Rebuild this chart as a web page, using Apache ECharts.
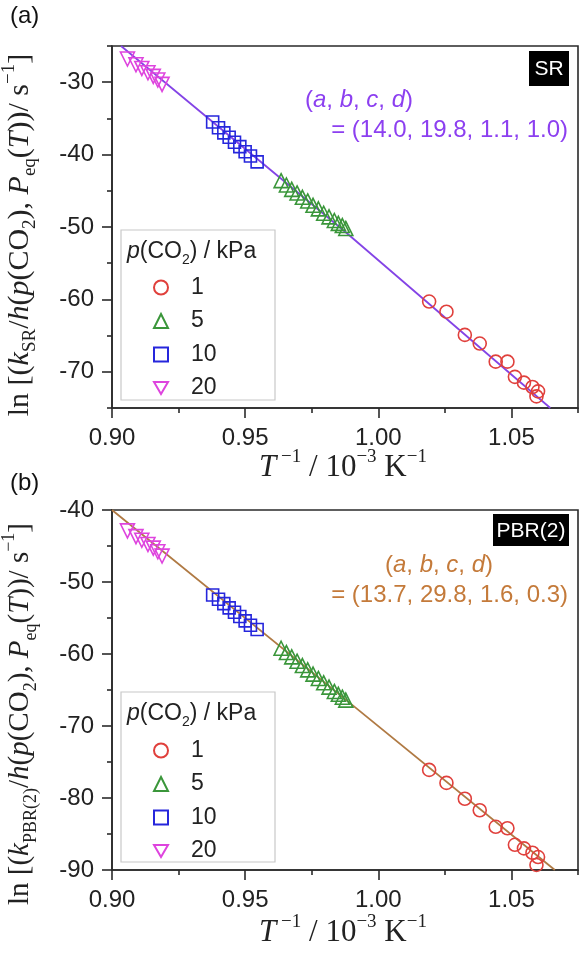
<!DOCTYPE html>
<html><head><meta charset="utf-8">
<script src="https://cdn.jsdelivr.net/npm/echarts@6/dist/echarts.min.js"></script>
<style>html,body{margin:0;padding:0;background:#fff}#c{width:579px;height:960px}</style>
</head><body><div id="c"></div>
<script>
// ---- tick values ----
const xMajorTicks = [0.90, 0.95, 1.00, 1.05];
const xMinorTicks = [0.925, 0.975, 1.025, 1.075];
const yMajorTicksA = [-70, -60, -50, -40, -30];
const yMinorTicksA = [-75, -65, -55, -45, -35, -25];
const yMajorTicksB = [-90, -80, -70, -60, -50, -40];
const yMinorTicksB = [-85, -75, -65, -55, -45];
const legendNames = ['1', '5', '10', '20'];

// ---- panel (a) SR ----
const aP1x = [1.0191, 1.0256, 1.0325, 1.0381, 1.0441, 1.0485, 1.0513, 1.0547, 1.0579, 1.0600, 1.0594];
const aP1y = [-60.3, -61.7, -64.9, -66.1, -68.6, -68.6, -70.7, -71.5, -72.1, -72.7, -73.4];
const aP5x = [0.9635, 0.9655, 0.9675, 0.9695, 0.9715, 0.9735, 0.9755, 0.9775, 0.9795, 0.9815, 0.9835, 0.9850, 0.9865, 0.9878];
const aP5y = [-43.6, -44.2, -44.8, -45.3, -45.9, -46.4, -47.0, -47.5, -48.1, -48.6, -49.1, -49.5, -49.8, -50.2];
const aP10x = [0.9378, 0.9400, 0.9420, 0.9440, 0.9460, 0.9480, 0.9500, 0.9520, 0.9545];
const aP10y = [-35.5, -36.3, -37.0, -37.6, -38.3, -38.9, -39.6, -40.2, -41.0];
const aP20x = [0.9058, 0.9090, 0.9112, 0.9135, 0.9155, 0.9172, 0.9188];
const aP20y = [-26.8, -27.6, -28.1, -28.7, -29.2, -29.7, -30.3];
const aFitX = [0.9034, 0.9880, 1.0646];
const aFitY = [-25.0, -50.8, -75.0];

// ---- panel (b) PBR(2) ----
const bP1x = [1.0191, 1.0256, 1.0325, 1.0381, 1.0441, 1.0485, 1.0513, 1.0547, 1.0579, 1.0600, 1.0594];
const bP1y = [-76.1, -77.9, -80.1, -81.7, -84.0, -84.2, -86.5, -87.0, -87.6, -88.2, -89.3];
const bP5x = [0.9635, 0.9655, 0.9675, 0.9695, 0.9715, 0.9735, 0.9755, 0.9775, 0.9795, 0.9815, 0.9835, 0.9850, 0.9865, 0.9878];
const bP5y = [-59.2, -59.8, -60.4, -61.0, -61.6, -62.2, -62.8, -63.4, -64.0, -64.6, -65.2, -65.6, -66.0, -66.4];
const bP10x = [0.9378, 0.9400, 0.9420, 0.9440, 0.9460, 0.9480, 0.9500, 0.9520, 0.9545];
const bP10y = [-51.8, -52.4, -53.0, -53.6, -54.2, -54.8, -55.4, -56.0, -56.6];
const bP20x = [0.9058, 0.9090, 0.9112, 0.9135, 0.9155, 0.9172, 0.9188];
const bP20y = [-42.9, -43.7, -44.2, -44.8, -45.3, -45.8, -46.4];
const bFitX = [0.9000, 0.9880, 1.0663];
const bFitY = [-40.0, -66.4, -90.0];

const zip = (xs, ys) => xs.map((x, i) => [x, ys[i]]);

const SANS = '"Liberation Sans", Arial, sans-serif';
const SERIF = '"Liberation Serif", "Times New Roman", serif';
const AXC = '#2a2a2a';

const colors = { p1: '#e0403c', p5: '#3a963a', p10: '#2626dc', p20: '#de44de' };
const downTri = 'path://M0,0 L20,0 L10,17.3 Z';
const markers = [
  { name: '1', symbol: 'circle', color: colors.p1, size: 13 },
  { name: '5', symbol: 'triangle', color: colors.p5, size: 14 },
  { name: '10', symbol: 'rect', color: colors.p10, size: 12 },
  { name: '20', symbol: downTri, color: colors.p20, size: 14 }
];

function grids() {
  return [
    { left: 112, right: 1, top: 46, height: 362, show: true, borderColor: AXC, borderWidth: 1.6, backgroundColor: 'transparent' },
    { left: 112, right: 1, top: 510, height: 360, show: true, borderColor: AXC, borderWidth: 1.6, backgroundColor: 'transparent' }
  ];
}

function xAxes(gi) {
  const base = { type: 'value', gridIndex: gi, min: 0.90, max: 1.075, position: 'bottom', splitLine: { show: false } };
  return [
    Object.assign({}, base, {
      axisLine: { show: true, onZero: false, lineStyle: { color: AXC, width: 1.6 } },
      axisTick: { show: true, inside: false, length: 10, lineStyle: { color: AXC, width: 1.6 }, customValues: xMajorTicks },
      axisLabel: { show: true, margin: 18, fontFamily: SANS, fontSize: 24, color: '#222', customValues: xMajorTicks,
        formatter: v => v.toFixed(2) }
    }),
    Object.assign({}, base, {
      axisLine: { show: false, onZero: false },
      axisTick: { show: true, inside: false, length: 5, lineStyle: { color: AXC, width: 1.6 }, customValues: xMinorTicks },
      axisLabel: { show: false }
    })
  ];
}

function yAxes(gi, min, max, major, minor) {
  const base = { type: 'value', gridIndex: gi, min: min, max: max, position: 'left', splitLine: { show: false } };
  return [
    Object.assign({}, base, {
      axisLine: { show: true, onZero: false, lineStyle: { color: AXC, width: 1.6 } },
      axisTick: { show: true, inside: false, length: 10, lineStyle: { color: AXC, width: 1.6 }, customValues: major },
      axisLabel: { show: true, margin: 18, fontFamily: SANS, fontSize: 24, color: '#222', customValues: major,
        formatter: v => String(v) }
    }),
    Object.assign({}, base, {
      axisLine: { show: false, onZero: false },
      axisTick: { show: true, inside: false, length: 5, lineStyle: { color: AXC, width: 1.6 }, customValues: minor },
      axisLabel: { show: false }
    })
  ];
}

function scatter(m, data, xi, yi) {
  return {
    type: 'scatter', name: m.name, xAxisIndex: xi, yAxisIndex: yi, data: data,
    symbol: m.symbol, symbolSize: m.size, z: 5,
    itemStyle: { color: 'rgba(255,255,255,0)', borderColor: m.color, borderWidth: 1.6, opacity: 1 },
    emphasis: { disabled: true }
  };
}

const series = [
  { type: 'line', name: 'fitA', xAxisIndex: 0, yAxisIndex: 0, data: zip(aFitX, aFitY), showSymbol: false,
    lineStyle: { color: '#8444e6', width: 1.8 }, z: 2, silent: true },
  scatter(markers[0], zip(aP1x, aP1y), 0, 0),
  scatter(markers[1], zip(aP5x, aP5y), 0, 0),
  scatter(markers[2], zip(aP10x, aP10y), 0, 0),
  scatter(markers[3], zip(aP20x, aP20y), 0, 0),
  { type: 'line', name: 'fitB', xAxisIndex: 2, yAxisIndex: 2, data: zip(bFitX, bFitY), showSymbol: false,
    lineStyle: { color: '#b07a44', width: 1.8 }, z: 2, silent: true },
  scatter(markers[0], zip(bP1x, bP1y), 2, 2),
  scatter(markers[1], zip(bP5x, bP5y), 2, 2),
  scatter(markers[2], zip(bP10x, bP10y), 2, 2),
  scatter(markers[3], zip(bP20x, bP20y), 2, 2)
];

function legend(top) {
  return {
    data: legendNames, orient: 'vertical', left: 148, top: top, itemWidth: 14, itemHeight: 14, itemGap: 10.5,
    selectedMode: false, padding: 5,
    textStyle: { fontFamily: SANS, fontSize: 23, color: '#222', padding: [0, 0, 0, 18] }
  };
}

function serifRich(size, color) {
  return {
    n: { fontFamily: SERIF, fontSize: size, lineHeight: 40, fill: color, color: color },
    i: { fontFamily: SERIF, fontSize: size, fontStyle: 'italic', lineHeight: 40, fill: color, color: color },
    sub: { fontFamily: SERIF, fontSize: Math.round(size * 0.62), lineHeight: 24, verticalAlign: 'bottom', fill: color, color: color },
    sup: { fontFamily: SERIF, fontSize: Math.round(size * 0.62), lineHeight: 14, verticalAlign: 'top', fill: color, color: color }
  };
}

function sansRich(size, color) {
  return {
    n: { fontFamily: SANS, fontSize: size, lineHeight: 30, fill: color, color: color },
    i: { fontFamily: SANS, fontSize: size, fontStyle: 'italic', lineHeight: 30, fill: color, color: color },
    sub: { fontFamily: SANS, fontSize: Math.round(size * 0.62), lineHeight: 18, verticalAlign: 'bottom', fill: color, color: color }
  };
}

function txt(x, y, text, rich, align, rotation) {
  return { type: 'text', x: x, y: y, rotation: rotation || 0, z: 10,
    style: { text: text, rich: rich, align: align || 'left', verticalAlign: 'middle', textAlign: align || 'left', textVerticalAlign: 'middle' } };
}

function box(x, y, w, h) {
  return { type: 'rect', shape: { x: x, y: y, width: w, height: h }, z: 3,
    style: { fill: '#fff', stroke: '#c8c8c8', lineWidth: 1.2 } };
}

function tag(x, y, w, h, label) {
  return [
    { type: 'rect', shape: { x: x, y: y, width: w, height: h }, z: 10, style: { fill: '#000' } },
    { type: 'text', x: x + w / 2, y: y + h / 2 + 1, z: 11,
      style: { text: label, fill: '#fff', font: '21px ' + SANS, align: 'center', verticalAlign: 'middle', textAlign: 'center', textVerticalAlign: 'middle' } }
  ];
}

const purple = '#8c3ff0';
const orange = '#c47a3a';
const xTitle = '{i|T}{sup| −1}{n| / 10}{sup|−3}{n| K}{sup|−1}';

const graphic = [
  { type: 'text', x: 10, y: 16, z: 10, style: { text: '(a)', font: '24px ' + SANS, fill: '#111', verticalAlign: 'middle', textVerticalAlign: 'middle' } },
  { type: 'text', x: 10, y: 483, z: 10, style: { text: '(b)', font: '24px ' + SANS, fill: '#111', verticalAlign: 'middle', textVerticalAlign: 'middle' } },
  ...tag(529, 51, 40, 35, 'SR'),
  ...tag(493, 514, 76, 32, 'PBR(2)'),
  txt(305, 100, '{n|(}{i|a}{n|, }{i|b}{n|, }{i|c}{n|, }{i|d}{n|)}', sansRich(24, purple)),
  txt(568, 130, '{n|= (14.0, 19.8, 1.1, 1.0)}', sansRich(24, purple), 'right'),
  txt(385, 565, '{n|(}{i|a}{n|, }{i|b}{n|, }{i|c}{n|, }{i|d}{n|)}', sansRich(24, orange)),
  txt(568, 595, '{n|= (13.7, 29.8, 1.6, 0.3)}', sansRich(24, orange), 'right'),
  box(121, 230, 154, 170),
  box(121, 692, 154, 170),
  txt(127, 252, '{i|p}{n|(CO}{sub|2}{n|) / kPa}', sansRich(23, '#222')),
  txt(127, 714, '{i|p}{n|(CO}{sub|2}{n|) / kPa}', sansRich(23, '#222')),
  txt(343, 468, xTitle, serifRich(31, '#222'), 'center'),
  txt(343, 933, xTitle, serifRich(31, '#222'), 'center'),
  txt(20, 235, '{n|ln [(}{i|k}{sub|SR}{n|/}{i|h}{n|(}{i|p}{n|(CO}{sub|2}{n|), }{i|P}{sub|eq}{n|(}{i|T}{n|))/ s}{sup|−1}{n|]}',
      serifRich(30, '#222'), 'center', Math.PI / 2),
  txt(20, 714, '{n|ln [(}{i|k}{sub|PBR(2)}{n|/}{i|h}{n|(}{i|p}{n|(CO}{sub|2}{n|), }{i|P}{sub|eq}{n|(}{i|T}{n|))/ s}{sup|−1}{n|]}',
      serifRich(29, '#222'), 'center', Math.PI / 2)
];

const chart = echarts.init(document.getElementById('c'), null, { renderer: 'canvas' });
chart.setOption({
  animation: false,
  backgroundColor: '#fff',
  grid: grids(),
  xAxis: [...xAxes(0), ...xAxes(1)],
  yAxis: [...yAxes(0, -75, -25, yMajorTicksA, yMinorTicksA), ...yAxes(1, -90, -40, yMajorTicksB, yMinorTicksB)],
  legend: [legend(271), legend(734)],
  series: series,
  graphic: graphic
});
</script>
</body></html>
